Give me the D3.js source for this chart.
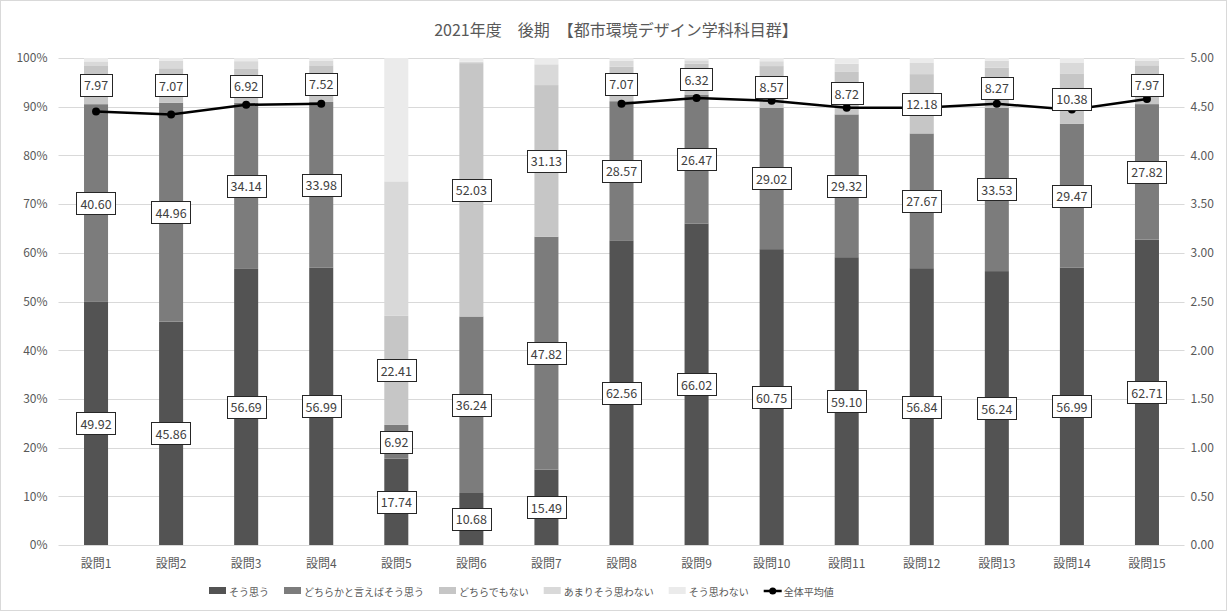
<!DOCTYPE html>
<html><head><meta charset="utf-8">
<script src="https://cdn.jsdelivr.net/npm/d3@7"></script>
<style>
body{margin:0;background:#fff;}
text{font-family:"Noto Sans CJK JP","Noto Sans",sans-serif;}
</style></head>
<body><svg id="c" width="1227" height="611"></svg>
<script>
const categories = ["設問1","設問2","設問3","設問4","設問5","設問6","設問7","設問8","設問9","設問10","設問11","設問12","設問13","設問14","設問15"];
const seriesNames = ["そう思う","どちらかと言えばそう思う","どちらでもない","あまりそう思わない","そう思わない"];
const soOmou      = [49.92,45.86,56.69,56.99,17.74,10.68,15.49,62.56,66.02,60.75,59.10,56.84,56.24,56.99,62.71];
const dochiraKa   = [40.60,44.96,34.14,33.98,6.92,36.24,47.82,28.57,26.47,29.02,29.32,27.67,33.53,29.47,27.82];
const dochiraDemo = [7.97,7.07,6.92,7.52,22.41,52.03,31.13,7.07,6.32,8.57,8.72,12.18,8.27,10.38,7.97];
const amari       = [0.81,1.51,1.60,0.90,27.60,0.30,4.26,1.20,0.70,1.00,1.70,2.28,1.40,2.13,0.90];
const soOmowanai  = [0.70,0.60,0.65,0.61,25.33,0.75,1.30,0.60,0.49,0.66,1.16,1.03,0.56,1.03,0.60];
const average     = [4.45,4.42,4.52,4.53,null,null,null,4.53,4.59,4.56,4.49,4.49,4.53,4.47,4.58];
const leftTicks = [0,10,20,30,40,50,60,70,80,90,100];
const rightTicks = [0,0.5,1,1.5,2,2.5,3,3.5,4,4.5,5];
const lineName = "全体平均値";
const title = "2021年度\u3000後期\u3000【都市環境デザイン学科科目群】";

const seriesData = [soOmou, dochiraKa, dochiraDemo, amari, soOmowanai];
const colors = ["#535353","#7c7c7c","#c6c6c6","#d9d9d9","#ebebeb"];
const labeled = [true,true,true,false,false];

const svg = d3.select("#c");
svg.append("rect").attr("x",0.5).attr("y",0.5).attr("width",1226).attr("height",610)
  .attr("fill","#fff").attr("stroke","#d9d9d9");

const L=58.5, R=1184.5, T=58, B=545;
const x = d3.scaleBand().domain(categories).range([L,R]).paddingInner(0.68).paddingOuter(0.34);
const y = d3.scaleLinear().domain([0,100]).range([B,T]);
const y2 = d3.scaleLinear().domain([0,5]).range([B,T]);

svg.append("text").attr("x",616).attr("y",36).attr("text-anchor","middle")
  .attr("font-size",16).attr("fill","#595959").text(title);

// grid
svg.append("g").selectAll("line").data(leftTicks).join("line")
  .attr("x1",L).attr("x2",R).attr("y1",d=>Math.round(y(d))+0.5).attr("y2",d=>Math.round(y(d))+0.5)
  .attr("stroke","#d9d9d9").attr("stroke-width",1);

// axes
const ax = d3.axisLeft(y).tickValues(leftTicks).tickFormat(d=>d+"%").tickSize(0).tickPadding(11);
const gL = svg.append("g").attr("transform",`translate(${L},0)`).call(ax);
gL.select(".domain").remove();
gL.selectAll("text").attr("font-size",12).attr("fill","#595959").attr("font-family",'"Noto Sans CJK JP",sans-serif');

const ax2 = d3.axisRight(y2).tickValues(rightTicks).tickFormat(d3.format(".2f")).tickSize(0).tickPadding(6);
const gR = svg.append("g").attr("transform",`translate(${R},0)`).call(ax2);
gR.select(".domain").remove();
gR.selectAll("text").attr("font-size",12).attr("fill","#595959").attr("font-family",'"Noto Sans CJK JP",sans-serif');

const axb = d3.axisBottom(x).tickSize(0).tickPadding(14);
const gB = svg.append("g").attr("transform",`translate(0,${B})`).call(axb);
gB.select(".domain").remove();
gB.selectAll("text").attr("font-size",12).attr("fill","#595959").attr("font-family",'"Noto Sans CJK JP",sans-serif');

// stacked bars
const rows = categories.map((c,i)=>{const o={cat:c}; seriesNames.forEach((s,k)=>o[s]=seriesData[k][i]); return o;});
const stack = d3.stack().keys(seriesNames)(rows);
const gBars = svg.append("g");
stack.forEach((layer,k)=>{
  gBars.selectAll(null).data(layer).join("rect")
    .attr("x",d=>x(d.data.cat)).attr("width",x.bandwidth())
    .attr("y",d=>y(d[1])).attr("height",d=>y(d[0])-y(d[1]))
    .attr("fill",colors[k]);
});

// line
const pts = categories.map((c,i)=>({cat:c,v:average[i]}));
const line = d3.line().defined(d=>d.v!=null).x(d=>x(d.cat)+x.bandwidth()/2).y(d=>y2(d.v));
svg.append("path").datum(pts).attr("d",line).attr("fill","none").attr("stroke","#000").attr("stroke-width",2.5);
svg.append("g").selectAll("circle").data(pts.filter(d=>d.v!=null)).join("circle")
  .attr("cx",d=>x(d.cat)+x.bandwidth()/2).attr("cy",d=>y2(d.v)).attr("r",4).attr("fill","#000");

// labels
const gLab = svg.append("g");
stack.forEach((layer,k)=>{
  if(!labeled[k]) return;
  layer.forEach(d=>{
    const v = d[1]-d[0];
    const cx = x(d.data.cat)+x.bandwidth()/2, cy=(y(d[0])+y(d[1]))/2;
    const t = v.toFixed(2);
    const g = gLab.append("g");
    const tx = g.append("text").attr("x",cx).attr("y",cy).attr("text-anchor","middle")
      .attr("dominant-baseline","central").attr("font-size",12.5).attr("fill","#404040").text(t);
    const w = tx.node().getComputedTextLength();
    g.insert("rect","text").attr("x",Math.round(cx-w/2-4)+0.5).attr("y",Math.round(cy-11)+0.5)
      .attr("width",Math.round(w+8)).attr("height",22).attr("fill","#fff").attr("stroke","#262626").attr("stroke-width",1);
  });
});

// legend (sequential layout, centered)
const gLeg = svg.append("g");
const items = seriesNames.map((s,k)=>({name:s,color:colors[k],type:"rect"})).concat([{name:lineName,type:"line"}]);
let cur = 0;
const legY = 591, gap = 15;
items.forEach(it=>{
  const g = gLeg.append("g").attr("transform",`translate(${cur},0)`);
  if(it.type==="rect"){
    g.append("rect").attr("x",0).attr("y",legY-4).attr("width",17).attr("height",7).attr("fill",it.color);
  } else {
    g.append("line").attr("x1",0).attr("x2",18).attr("y1",legY).attr("y2",legY).attr("stroke","#000").attr("stroke-width",2.5);
    g.append("circle").attr("cx",9).attr("cy",legY).attr("r",3.5).attr("fill","#000");
  }
  const t = g.append("text").attr("x",20).attr("y",legY).attr("dominant-baseline","central")
    .attr("font-size",10).attr("fill","#595959").text(it.name);
  cur += 20 + t.node().getComputedTextLength() + gap;
});
const total = cur - gap;
gLeg.attr("transform",`translate(${Math.round(521 - total/2)},0)`);
</script></body></html>
